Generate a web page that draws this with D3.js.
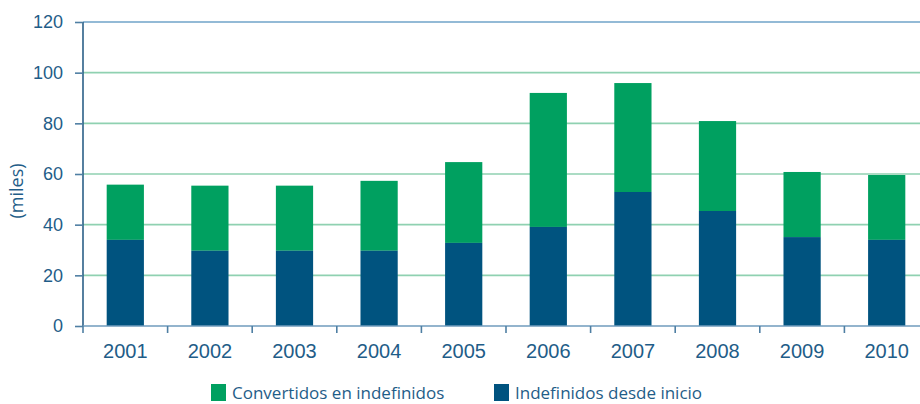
<!DOCTYPE html>
<html>
<head>
<meta charset="utf-8">
<script src="https://cdn.jsdelivr.net/npm/d3@7"></script>
<style>
	body { margin: 0; background: #fff; }
	svg { display: block; font-family: 'Open Sans', 'Liberation Sans', sans-serif; }
</style>
</head>
<body>
<div class="container"></div>
<script>
var years = ['2001', '2002', '2003', '2004', '2005', '2006', '2007', '2008', '2009', '2010'];
var desdeInicio = [34, 29.7, 29.7, 29.7, 32.8, 39.1, 52.9, 45.4, 35.1, 34];
var totales = [55.8, 55.4, 55.4, 57.3, 64.7, 92, 95.9, 80.9, 60.8, 59.6];
var convertidos = totales.map((t, i) => +(t - desdeInicio[i]).toFixed(1));
var yTicks = [0, 20, 40, 60, 80, 100, 120];
var seriesNames = ['Convertidos en indefinidos', 'Indefinidos desde inicio'];
var seriesColors = ['#00a060', '#00537f'];

var padding = { top: 22, bottom: 78, left: 83, right: 0 },
	width = 920 - padding.left - padding.right,
	height = 404 - padding.top - padding.bottom;

var textColor = '#1f5d88';

var svg = d3.select('.container')
	.append('svg')
	.attr('width', 920)
	.attr('height', 404);

var g = svg.append('g')
	.attr('transform', 'translate(' + padding.left + ',' + padding.top + ')');

// scales
var xScale = d3.scaleBand()
	.range([0, 846])
	.domain(years)
	.paddingInner(0.56)
	.paddingOuter(0.28);

var yScale = d3.scaleLinear()
	.domain([0, 120])
	.range([height, 0]);

// grid
g.append('g')
	.selectAll('line')
	.data(yTicks.filter(v => v > 0))
	.enter().append('line')
	.attr('x1', 0)
	.attr('x2', width)
	.attr('y1', d => yScale(d))
	.attr('y2', d => yScale(d))
	.attr('stroke', d => d === 120 ? '#6fa3c9' : '#8fd1b1')
	.attr('stroke-width', 1.6);

// stacked bars
var rows = years.map((y, i) => ({ year: y, desde: desdeInicio[i], conv: convertidos[i] }));
var stack = d3.stack().keys(['conv', 'desde']).order(d3.stackOrderReverse);
var layers = stack(rows);

g.append('g')
	.selectAll('g')
	.data(layers)
	.enter().append('g')
	.attr('fill', d => d.key === 'conv' ? seriesColors[0] : seriesColors[1])
	.selectAll('rect')
	.data(d => d)
	.enter().append('rect')
	.attr('x', d => xScale(d.data.year))
	.attr('y', d => yScale(d[1]))
	.attr('width', xScale.bandwidth())
	.attr('height', d => yScale(d[0]) - yScale(d[1]));

// y axis
var yAxis = d3.axisLeft(yScale)
	.tickValues(yTicks)
	.tickSize(8)
	.tickPadding(12);

var yG = g.append('g')
	.attr('class', 'y-axis')
	.call(yAxis);
yG.select('.domain').attr('stroke', '#2b6088').attr('stroke-width', 1.6).attr('d', 'M0,' + yScale(120) + 'V' + height);
yG.selectAll('.tick line').attr('stroke', '#4f7fa3').attr('stroke-width', 1.6);
yG.selectAll('text').attr('fill', textColor).style('font-size', '18px');

// x axis
var xAxis = d3.axisBottom(xScale)
	.tickSize(0)
	.tickPadding(18);

var xG = g.append('g')
	.attr('class', 'x-axis')
	.attr('transform', 'translate(0,' + height + ')')
	.call(xAxis);
xG.select('.domain').attr('stroke', '#6f9bbd').attr('stroke-width', 1.6).attr('d', 'M0,0H' + width);
xG.selectAll('text').attr('fill', textColor).style('font-size', '20px');

// tick marks between categories
var step = xScale.step();
xG.selectAll('.sep')
	.data(d3.range(0, years.length + 1))
	.enter().append('line')
	.attr('x1', i => i * step)
	.attr('x2', i => i * step)
	.attr('y1', 0)
	.attr('y2', 7)
	.attr('stroke', '#4f7fa3')
	.attr('stroke-width', 1.6);

// y label
svg.append('text')
	.attr('transform', 'translate(23,191) rotate(-90)')
	.attr('text-anchor', 'middle')
	.attr('fill', textColor)
	.style('font-size', '18px')
	.text('(miles)');

// legend
var legend = svg.append('g');
var legendX = [211, 494];
seriesNames.forEach(function (name, i) {
	var item = legend.append('g').attr('transform', 'translate(' + legendX[i] + ',384)');
	item.append('rect')
		.attr('width', 15)
		.attr('height', 17)
		.attr('fill', seriesColors[i]);
	item.append('text')
		.attr('x', 21)
		.attr('y', 15)
		.attr('fill', textColor)
		.style('font-size', '17px')
		.text(name);
});
</script>
</body>
</html>
